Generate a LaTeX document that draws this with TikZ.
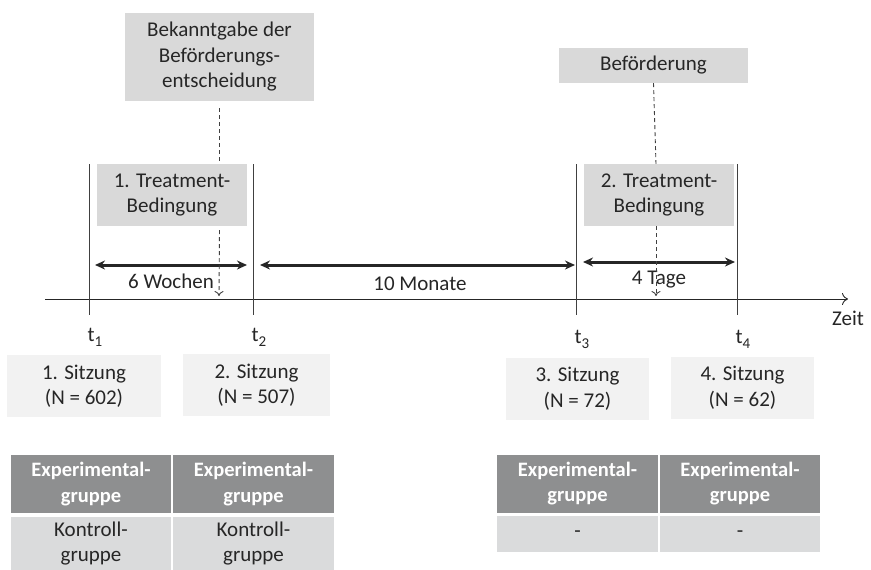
\documentclass[tikz,border=0pt]{standalone}
\usepackage{fontspec}
\setmainfont{Carlito}
\usetikzlibrary{arrows.meta}
\definecolor{boxgray}{HTML}{D9D9D9}
\definecolor{sessgray}{HTML}{F2F2F2}
\definecolor{headgray}{HTML}{8E8F90}
\definecolor{rowgray}{HTML}{DADBDC}
\definecolor{ink}{HTML}{262626}
\definecolor{linegray}{HTML}{404040}
% index of a measurement point, set low and fairly large
\newcommand{\tidx}[1]{\raisebox{-5pt}{\fontsize{15}{15}\selectfont #1}}
\tikzset{
  x=1pt, y=-1pt,
  every node/.style={font=\fontsize{21}{25.5}\selectfont, text=ink, align=center, inner sep=0pt},
  eventbox/.style={fill=boxgray, minimum width=#1},
  sessbox/.style={fill=sessgray, minimum width=#1, minimum height=62},
  headcell/.style={fill=headgray, text=white, font=\fontsize{20.5}{25.5}\selectfont\bfseries, minimum width=#1, minimum height=58},
  bodycell/.style={fill=rowgray, minimum width=#1},
  marker/.style={draw=linegray, line width=0.9pt},
  span/.style={line width=3pt, draw=ink, {Stealth[length=10pt,width=9pt]}-{Stealth[length=10pt,width=9pt]}},
  dashlink/.style={draw=linegray, line width=0.9pt, dash pattern=on 4pt off 3pt},
  timeaxis/.style={draw=ink, line width=0.9pt, -{To[length=6pt,width=12pt]}},
}
\begin{document}
\begin{tikzpicture}
\useasboundingbox (0,0) rectangle (871,570);

% events above the time line
\node[eventbox=189, minimum height=88] (bek) at (219.5,57) {Bekanntgabe der\\Beförderungs-\\entscheidung};
\node[eventbox=189, minimum height=35] (bef) at (653.5,65.5) {Beförderung};
\node[eventbox=150, minimum height=62] (tr1) at (172,195) {1. Treatment-\\Bedingung};
\node[eventbox=150, minimum height=62] (tr2) at (659,195) {2. Treatment-\\Bedingung};

% time line with measurement points
\coordinate (ax0) at (45,299);
\coordinate (ax1) at (848,299);
\draw[timeaxis] (ax0) -- (ax1);
\node (zeit) at (848,318) {Zeit};

\coordinate (m1a) at (89,164);  \coordinate (m1b) at (89,315);
\coordinate (m2a) at (253,164); \coordinate (m2b) at (253,315);
\coordinate (m3a) at (576,164); \coordinate (m3b) at (576,315);
\coordinate (m4a) at (737,164); \coordinate (m4b) at (737,315);
\draw[marker] (m1a) -- (m1b);
\draw[marker] (m2a) -- (m2b);
\draw[marker] (m3a) -- (m3b);
\draw[marker] (m4a) -- (m4b);

\node (t1) at (95,337) {t\tidx{1}};
\node (t2) at (259,337) {t\tidx{2}};
\node (t3) at (582,339) {t\tidx{3}};
\node (t4) at (743,339) {t\tidx{4}};

% intervals between sessions
\coordinate (w0) at (95,265);  \coordinate (w1) at (247,265);
\coordinate (mo0) at (260,265); \coordinate (mo1) at (575,265);
\coordinate (d0) at (583,262); \coordinate (d1) at (735,262);
\draw[span] (w0) -- (w1);
\draw[span] (mo0) -- (mo1);
\draw[span] (d0) -- (d1);
\node (lw) at (171,281) {6 Wochen};
\node (lm) at (420,284) {10 Monate};
\node (ld) at (659,280) {4 Tage};

% dashed links from the events onto the time line
\coordinate (e1) at (219,296);
\coordinate (e2) at (656,296);
\draw[dashlink] (bek.south) ++(0,7) -- (bek.south |- tr1.north);
\draw[dashlink, -{To[length=5pt,width=9pt]}] (bek.south |- tr1.south) ++(0,4) -- (e1);
\draw[dashlink] (bef.south) -- (tr2.north -| e2);
\draw[dashlink, -{To[length=5pt,width=9pt]}] (tr2.south -| e2) -- (e2);

% sessions
\node[sessbox=154] (s1) at (84,386) {1. Sitzung\\(N = 602)};
\node[sessbox=147] (s2) at (256.5,385) {2. Sitzung\\(N = 507)};
\node[sessbox=143] (s3) at (577.5,388.5) {3. Sitzung\\(N = 72)};
\node[sessbox=143] (s4) at (742.5,387.5) {4. Sitzung\\(N = 62)};

% group tables
\node[headcell=160] (g1) at (91,484) {Experimental-\\gruppe};
\node[headcell=161] (g2) at (253.5,484) {Experimental-\\gruppe};
\node[bodycell=160, minimum height=53] (k1) at (91,543.5) {Kontroll-\\gruppe};
\node[bodycell=161, minimum height=53] (k2) at (253.5,543.5) {Kontroll-\\gruppe};

\node[headcell=161] (g3) at (577.5,483.5) {Experimental-\\gruppe};
\node[headcell=160] (g4) at (740,483.5) {Experimental-\\gruppe};
\node[bodycell=161, minimum height=36] (k3) at (577.5,534) {-};
\node[bodycell=160, minimum height=36] (k4) at (740,534) {-};
\end{tikzpicture}
\end{document}
